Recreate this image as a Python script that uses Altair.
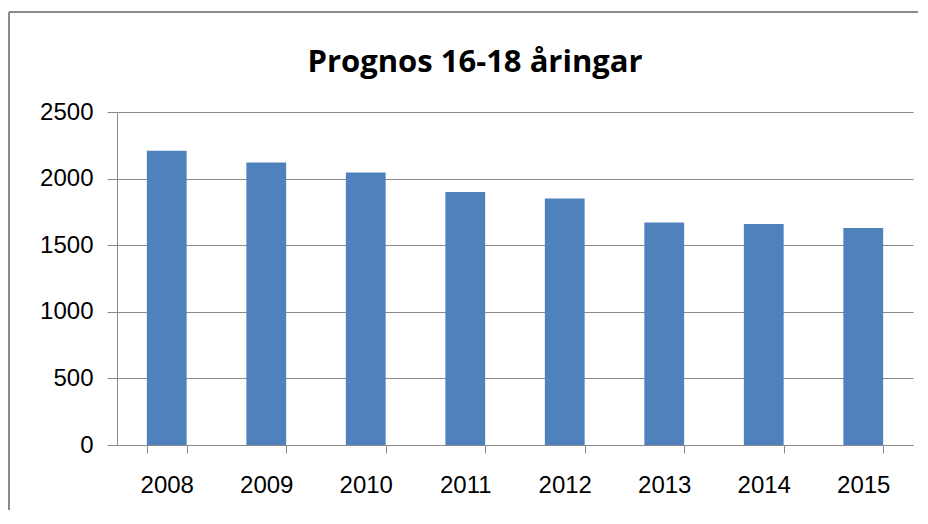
import altair as alt
import pandas as pd

years = ["2008", "2009", "2010", "2011", "2012", "2013", "2014", "2015"]
values = [2210, 2120, 2045, 1900, 1850, 1670, 1660, 1630]
y_ticks = [0, 500, 1000, 1500, 2000, 2500]
title_text = "Prognos 16-18 åringar"

df = pd.DataFrame({"year": years, "value": values})

GRID = "#8a8a8a"
FONT = "Liberation Sans"

bars = alt.Chart(df).mark_bar(color="#4F81BD").encode(
    x=alt.X(
        "year:N",
        sort=None,
        scale=alt.Scale(paddingInner=0.6, paddingOuter=0.3),
        axis=alt.Axis(
            title=None, labelAngle=0, tickBand="extent", grid=False,
            tickSize=8, labelPadding=20, domainColor=GRID, tickColor=GRID,
            labelFont=FONT, labelFontSize=24, labelColor="#000000",
        ),
    ),
    y=alt.Y(
        "value:Q",
        scale=alt.Scale(domain=[0, 2500]),
        axis=alt.Axis(
            title=None, values=y_ticks, format="d", tickSize=10, labelPadding=14,
            domainColor=GRID, tickColor=GRID, gridColor=GRID,
            labelFont=FONT, labelFontSize=24, labelColor="#000000",
        ),
    ),
)

one = pd.DataFrame({"a": [0]})
top_border = alt.Chart(one).mark_rule(color=GRID, strokeWidth=2).encode(
    x=alt.value(-108), x2=alt.value(805), y=alt.value(-100)
)
left_border = alt.Chart(one).mark_rule(color=GRID, strokeWidth=2).encode(
    x=alt.value(-108), y=alt.value(-100), y2=alt.value(400)
)

chart = (
    alt.layer(bars, top_border, left_border)
    .properties(
        width=796,
        height=333,
        autosize=alt.AutoSizeParams(type="none"),
        padding={"left": 109, "top": 104, "right": 5, "bottom": 65},
        title=alt.TitleParams(
            title_text, font="Liberation Sans Narrow, Open Sans", fontSize=31,
            fontWeight="bold", anchor="middle", frame="group",
            baseline="alphabetic", offset=42, dx=-40, dy=134, color="#000000",
        ),
    )
    .configure(background="white")
    .configure_view(strokeWidth=0, stroke="transparent")
)

chart.save("out.html", embed_options={"renderer": "svg", "actions": False})
